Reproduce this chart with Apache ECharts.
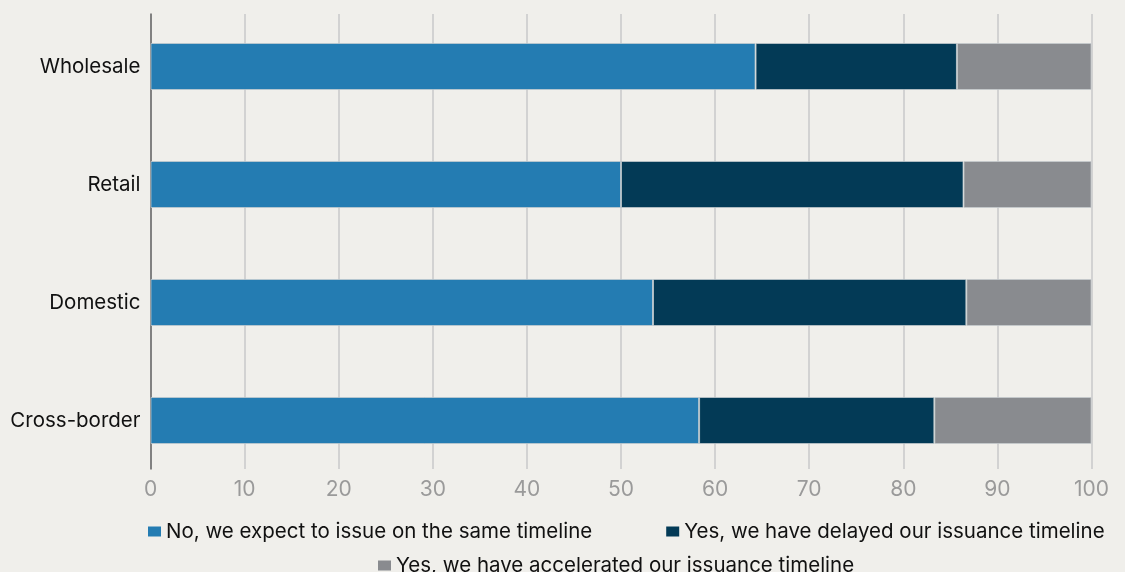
<!DOCTYPE html>
<html><head><meta charset="utf-8">
<script src="https://cdn.jsdelivr.net/npm/echarts@6/dist/echarts.min.js"></script>
<style>html,body{margin:0;padding:0;background:#f0efeb;}#c{width:1125px;height:572px;}</style>
</head><body><div id="c"></div>
<script>
const categories = ["Wholesale", "Retail", "Domestic", "Cross-border"];
const seriesNames = [
  "No, we expect to issue on the same timeline",
  "Yes, we have delayed our issuance timeline",
  "Yes, we have accelerated our issuance timeline"
];
const sameTimeline = [64.3, 50.0, 53.4, 58.3];
const delayed = [21.4, 36.4, 33.3, 25.0];
const accelerated = [14.3, 13.6, 13.3, 16.7];
const xTicks = [0, 10, 20, 30, 40, 50, 60, 70, 80, 90, 100];
const colors = ["#247cb2", "#033a56", "#898b8f"];

const FONT = "Inter";
const chart = echarts.init(document.getElementById('c'), null, {renderer: 'canvas'});
const values = [sameTimeline, delayed, accelerated];
const option = {
  backgroundColor: "#f0efeb",
  animation: false,
  textStyle: {fontFamily: FONT},
  grid: [
    {left: 150.5, right: 33.5, top: 7.5, height: 472},
    {left: 150.5, right: 33.5, top: 14, height: 455}
  ],
  xAxis: [
    {gridIndex: 0, type: 'value', min: 0, max: 100, show: false},
    {gridIndex: 1, type: 'value', min: 0, max: 100, interval: 10,
     axisLine: {show: false}, axisTick: {show: false},
     splitLine: {show: true, lineStyle: {color: '#d2d2d2', width: 2}},
     axisLabel: {color: '#9a9a9a', fontSize: 21, margin: 10, fontFamily: FONT,
       formatter: v => xTicks.includes(v) ? String(v) : ''}}
  ],
  yAxis: [
    {gridIndex: 0, type: 'category', data: categories, inverse: true,
     axisLine: {show: false}, axisTick: {show: false}, splitLine: {show: false},
     axisLabel: {color: '#111', fontSize: 20.5, margin: 10, fontFamily: FONT}},
    {gridIndex: 1, type: 'value', min: 0, max: 1,
     axisLine: {show: true, onZero: false, lineStyle: {color: '#666', width: 1.5}},
     axisTick: {show: false}, axisLabel: {show: false}, splitLine: {show: false}}
  ],
  legend: [
    {data: [seriesNames[0], seriesNames[1]], left: 143, top: 516, itemGap: 74,
     itemWidth: 13, itemHeight: 10, icon: 'rect', itemStyle: {borderWidth: 0},
     textStyle: {color: '#111', fontSize: 20.5, fontFamily: FONT}},
    {data: [seriesNames[2]], left: 373, top: 550,
     itemWidth: 13, itemHeight: 10, icon: 'rect', itemStyle: {borderWidth: 0},
     textStyle: {color: '#111', fontSize: 20.5, fontFamily: FONT}}
  ],
  series: seriesNames.map((name, i) => ({
    name, type: 'bar', stack: 'total', xAxisIndex: 0, yAxisIndex: 0,
    data: values[i], barWidth: 47,
    itemStyle: {color: colors[i], borderColor: 'rgba(200,205,208,0.7)', borderWidth: 1}
  }))
};
chart.setOption(option);
</script></body></html>
